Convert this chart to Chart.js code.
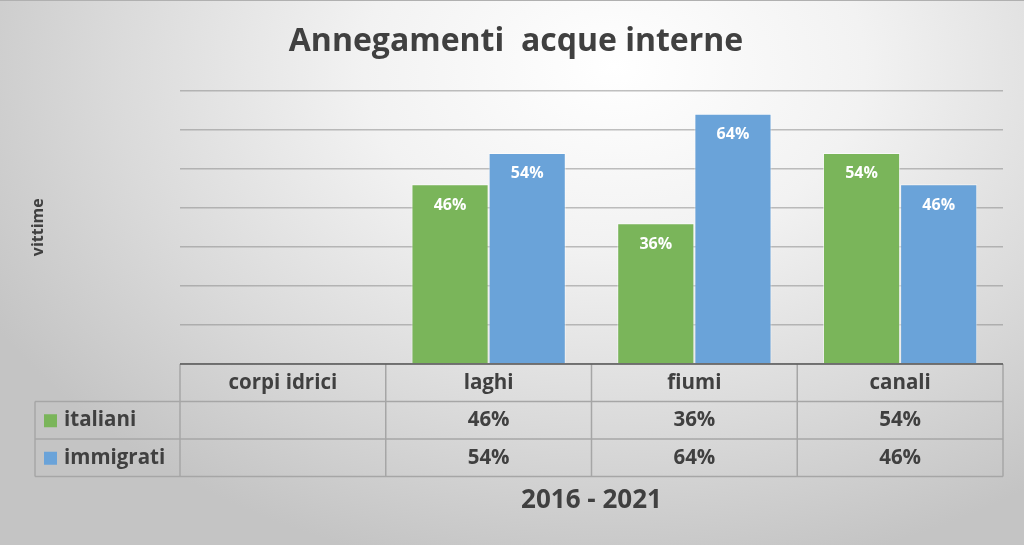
<!DOCTYPE html>
<html>
<head>
<meta charset="utf-8">
<title>Annegamenti acque interne</title>
<script src="https://cdn.jsdelivr.net/npm/chart.js@4.4.1/dist/chart.umd.min.js"></script>
<style>
    html, body { margin: 0; padding: 0; }
    body { width: 1024px; height: 545px; overflow: hidden; }
    #wrap {
        position: relative;
        width: 1024px;
        height: 545px;
        box-sizing: border-box;
        border-top: 1px solid #b0b0b0;
        background: radial-gradient(ellipse 70% 95% at 60% 12%, #ffffff 0%, #f2f2f2 35%, #dadada 70%, #c4c4c4 100%);
    }
</style>
</head>
<body>
<div id="wrap"><canvas id="chart" width="1024" height="545"></canvas></div>
<script>
const categories = ["corpi idrici", "laghi", "fiumi", "canali"];
const seriesNames = ["italiani", "immigrati"];
const italiani = [null, 46, 36, 54];
const immigrati = [null, 54, 64, 46];
const seriesColors = ["#7ab55a", "#6aa3d9"];

const FONT = "'Open Sans', 'DejaVu Sans', sans-serif";
const TEXT = "#404040";

// Etichette bianche dentro le barre
const barLabels = {
    id: "barLabels",
    afterDatasetsDraw(chart) {
        const ctx = chart.ctx;
        ctx.save();
        ctx.fillStyle = "#ffffff";
        ctx.font = "bold 16px " + FONT;
        ctx.textAlign = "center";
        ctx.textBaseline = "middle";
        chart.data.datasets.forEach((ds, i) => {
            chart.getDatasetMeta(i).data.forEach((bar, j) => {
                if (ds.data[j] == null) return;
                ctx.fillText(ds.data[j] + "%", bar.x, bar.y + 21);
            });
        });
        ctx.restore();
    },
};

// Tabella dati sotto il grafico (stile Excel)
const dataTable = {
    id: "dataTable",
    afterDraw(chart) {
        const ctx = chart.ctx;
        const area = chart.chartArea;
        const x = chart.scales.x;
        const rowH = 37.5;
        const top = area.bottom;
        const legendLeft = 35;
        const half = (x.getPixelForValue(1) - x.getPixelForValue(0)) / 2;
        const rows = [italiani, immigrati];
        const bottom = top + rowH * (rows.length + 1);

        ctx.save();
        ctx.strokeStyle = "#a6a6a6";
        ctx.lineWidth = 1.5;
        ctx.beginPath();
        // righe orizzontali
        for (let r = 1; r <= rows.length + 1; r++) {
            const y = top + rowH * r;
            ctx.moveTo(legendLeft, y);
            ctx.lineTo(area.right, y);
        }
        // colonne
        categories.forEach((c, i) => {
            const cx = x.getPixelForValue(i);
            ctx.moveTo(cx - half, top);
            ctx.lineTo(cx - half, bottom);
        });
        ctx.moveTo(area.right, top);
        ctx.lineTo(area.right, bottom);
        ctx.moveTo(legendLeft, top + rowH);
        ctx.lineTo(legendLeft, bottom);
        ctx.stroke();

        // asse
        ctx.strokeStyle = "#595959";
        ctx.lineWidth = 1.5;
        ctx.beginPath();
        ctx.moveTo(area.left, top);
        ctx.lineTo(area.right, top);
        ctx.stroke();

        ctx.fillStyle = TEXT;
        ctx.font = "bold 20.5px " + FONT;
        ctx.textAlign = "center";
        ctx.textBaseline = "middle";
        categories.forEach((c, i) => {
            const cx = x.getPixelForValue(i);
            ctx.fillText(c, cx, top + rowH / 2);
            rows.forEach((vals, r) => {
                if (vals[i] == null) return;
                ctx.fillText(vals[i] + "%", cx, top + rowH * (r + 1.5));
            });
        });

        // legenda nella prima colonna
        ctx.textAlign = "left";
        seriesNames.forEach((name, r) => {
            const cy = top + rowH * (r + 1.5);
            ctx.fillStyle = seriesColors[r];
            ctx.fillRect(legendLeft + 9, cy - 6, 13, 13);
            ctx.fillStyle = TEXT;
            ctx.fillText(name, legendLeft + 29, cy);
        });
        ctx.restore();
    },
};

new Chart(document.getElementById("chart"), {
    type: "bar",
    data: {
        labels: categories,
        datasets: [
            {
                label: seriesNames[0],
                data: italiani,
                backgroundColor: seriesColors[0],
                borderColor: "rgba(255,255,255,0.55)",
                borderWidth: 1,
            },
            {
                label: seriesNames[1],
                data: immigrati,
                backgroundColor: seriesColors[1],
                borderColor: "rgba(255,255,255,0.55)",
                borderWidth: 1,
            },
        ],
    },
    options: {
        responsive: false,
        animation: false,
        devicePixelRatio: 1,
        categoryPercentage: 0.75,
        barPercentage: 1,
        layout: { padding: { left: 29, right: 21, top: 0, bottom: 30 } },
        scales: {
            x: {
                grid: { display: false },
                border: { display: false },
                ticks: { display: false },
                title: {
                    display: true,
                    text: "2016 - 2021",
                    color: TEXT,
                    font: { family: FONT, size: 26, weight: "bold" },
                    padding: 0,
                },
                afterFit(scale) { scale.height = 152; },
            },
            y: {
                min: 0,
                max: 70,
                ticks: { display: false, stepSize: 10 },
                grid: { color: "rgba(140,140,140,0.55)", lineWidth: 1.5, drawTicks: false },
                border: { display: false },
                title: {
                    display: true,
                    text: "vittime",
                    color: TEXT,
                    font: { family: FONT, size: 16, weight: "bold" },
                    padding: 0,
                },
                afterFit(scale) { scale.width = 151; },
            },
        },
        plugins: {
            legend: { display: false },
            tooltip: { enabled: false },
            title: {
                display: true,
                text: "Annegamenti  acque interne",
                color: TEXT,
                font: { family: FONT, size: 32, weight: "bold" },
                padding: { top: 22, bottom: 29 },
            },
        },
    },
    plugins: [barLabels, dataTable],
});
</script>
</body>
</html>
